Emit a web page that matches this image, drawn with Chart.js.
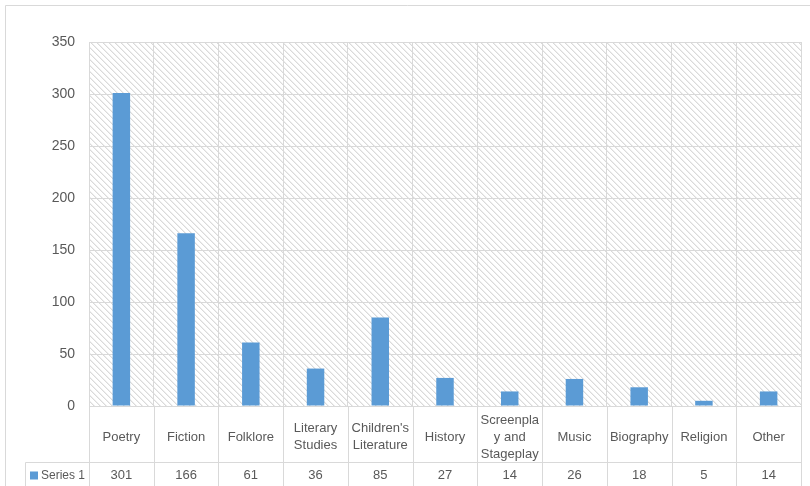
<!DOCTYPE html>
<html>
<head>
<meta charset="utf-8">
<script src="https://cdn.jsdelivr.net/npm/chart.js@4/dist/chart.umd.min.js"></script>
<style>
  html, body { margin: 0; padding: 0; background: #ffffff; }
  #wrap { width: 810px; height: 486px; position: relative; }
</style>
</head>
<body>
<div id="wrap"><canvas id="c" width="810" height="486"></canvas></div>
<script>
const categories = [
  ["Poetry"], ["Fiction"], ["Folklore"], ["Literary", "Studies"],
  ["Children's", "Literature"], ["History"], ["Screenpla", "y and", "Stageplay"],
  ["Music"], ["Biography"], ["Religion"], ["Other"]
];
const seriesName = "Series 1";
const seriesValues = [301, 166, 61, 36, 85, 27, 14, 26, 18, 5, 14];
const yTicks = [0, 50, 100, 150, 200, 250, 300, 350];

const GRID = '#d9d9d9';
const TEXT = '#595959';
const BAR = '#5b9bd5';
const FONT = '"Liberation Sans", Arial, sans-serif';

function makePattern(ctx) {
  const S = 6;
  const p = document.createElement('canvas');
  p.width = S; p.height = S;
  const pc = p.getContext('2d');
  pc.fillStyle = '#ffffff';
  pc.fillRect(0, 0, S, S);
  for (let y = 0; y < S; y++) {
    for (let x = 0; x < S; x++) {
      const d = ((x - y) % S + S) % S;
      if (d === 0) { pc.fillStyle = '#dadada'; pc.fillRect(x, y, 1, 1); }
      else if (d === 1) { pc.fillStyle = '#eeeeee'; pc.fillRect(x, y, 1, 1); }
    }
  }
  return ctx.createPattern(p, 'repeat');
}

const tablePlugin = {
  id: 'tablePlugin',
  beforeDraw(chart) {
    const ctx = chart.ctx;
    const a = chart.chartArea;
    ctx.save();
    ctx.fillStyle = '#ffffff';
    ctx.fillRect(0, 0, chart.width, chart.height);
    ctx.strokeStyle = GRID;
    ctx.lineWidth = 1;
    ctx.beginPath();
    ctx.moveTo(5.5, chart.height);
    ctx.lineTo(5.5, 5.5);
    ctx.lineTo(chart.width, 5.5);
    ctx.stroke();
    ctx.fillStyle = makePattern(ctx);
    ctx.fillRect(a.left, a.top, a.right - a.left, a.bottom - a.top);
    ctx.restore();
  },
  afterDraw(chart) {
    const ctx = chart.ctx;
    const a = chart.chartArea;
    const xs = chart.scales.x;
    const n = categories.length;
    const step = xs.getPixelForTick(1) - xs.getPixelForTick(0);
    const labelBottom = xs.bottom;
    ctx.save();
    ctx.strokeStyle = GRID;
    ctx.lineWidth = 1;
    ctx.beginPath();
    for (let i = 0; i <= n; i++) {
      const x = Math.round(xs.getPixelForTick(0) - step / 2 + i * step) + 0.5;
      ctx.moveTo(x, a.bottom);
      ctx.lineTo(x, chart.height);
    }
    const ty = Math.round(labelBottom) + 0.5;
    ctx.moveTo(25.5, ty);
    ctx.lineTo(a.right, ty);
    ctx.moveTo(25.5, ty);
    ctx.lineTo(25.5, chart.height);
    ctx.stroke();
    const rowMid = ty + 13;
    ctx.fillStyle = BAR;
    ctx.fillRect(30, rowMid - 4, 8, 8);
    ctx.fillStyle = TEXT;
    ctx.font = '12px ' + FONT;
    ctx.textBaseline = 'middle';
    ctx.textAlign = 'left';
    ctx.fillText(seriesName, 41, rowMid);
    ctx.font = '13px ' + FONT;
    ctx.textAlign = 'center';
    for (let i = 0; i < n; i++) {
      ctx.fillText(String(seriesValues[i]), xs.getPixelForTick(i), rowMid);
    }
    ctx.restore();
  }
};

new Chart(document.getElementById('c'), {
  type: 'bar',
  data: {
    labels: categories,
    datasets: [{
      label: seriesName,
      data: seriesValues,
      backgroundColor: BAR,
      borderWidth: 0,
      categoryPercentage: 1.0,
      barPercentage: 0.27
    }]
  },
  options: {
    responsive: false,
    animation: false,
    devicePixelRatio: 1,
    layout: { padding: { top: 42, right: 9, bottom: 24, left: 0 } },
    plugins: {
      legend: { display: false },
      tooltip: { enabled: false },
      title: { display: false }
    },
    scales: {
      x: {
        offset: true,
        grid: { offset: true, color: GRID, lineWidth: 1, drawTicks: false },
        border: { color: GRID, width: 1 },
        ticks: {
          color: TEXT,
          font: { family: FONT, size: 13, lineHeight: 1.32 },
          padding: 14,
          maxRotation: 0,
          minRotation: 0,
          autoSkip: false,
          crossAlign: 'center'
        },
        afterFit(scale) { scale.height = 56; }
      },
      y: {
        min: 0,
        max: 350,
        grid: { color: GRID, lineWidth: 1, drawTicks: false },
        border: { color: GRID, width: 1 },
        ticks: {
          stepSize: 50,
          color: TEXT,
          font: { family: FONT, size: 14 },
          padding: 14,
          callback: (v) => yTicks.includes(v) ? String(v) : ''
        },
        afterFit(scale) { scale.width = 89; }
      }
    }
  },
  plugins: [tablePlugin]
});
</script>
</body>
</html>
